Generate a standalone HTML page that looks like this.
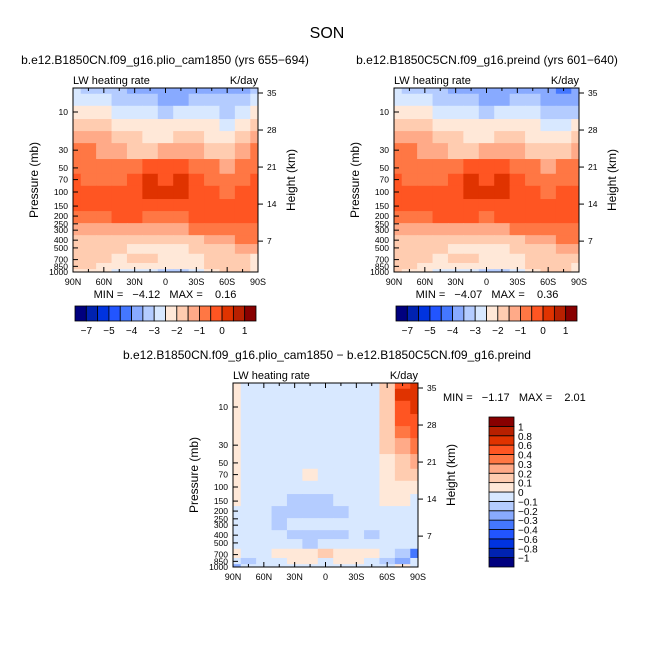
<!DOCTYPE html>
<html><head><meta charset="utf-8"><style>
body{margin:0;background:#fff}
svg{display:block;font-family:"Liberation Sans",sans-serif}
.pre{white-space:pre}
</style></head><body>
<svg id="chart" width="654" height="654" viewBox="0 0 654 654" xmlns="http://www.w3.org/2000/svg">
<rect width="654" height="654" fill="#fff"/>
<text x="327" y="38" font-size="16" text-anchor="middle">SON</text>
<text x="165" y="64" font-size="12" text-anchor="middle">b.e12.B1850CN.f09_g16.plio_cam1850 (yrs 655−694)</text>
<text x="487" y="64" font-size="12" text-anchor="middle">b.e12.B1850C5CN.f09_g16.preind (yrs 601−640)</text>
<text x="327" y="359" font-size="12" text-anchor="middle">b.e12.B1850CN.f09_g16.plio_cam1850 − b.e12.B1850C5CN.f09_g16.preind</text>
<g id="panels"></g>
</svg>
<script>
const lats=["90N","75N","60N","45N","30N","15N","0","15S","30S","45S","60S","75S","90S"];
const plevs=[5,7,10,15,20,30,50,70,100,150,200,300,400,500,700,850,1000];
const pTicks=[10,30,50,70,100,150,200,250,300,400,500,700,850,1000];
const hTicks=[35,28,21,14,7];
const xTickLabels=["90N","60N","30N","0","30S","60S","90S"];
const levelsAbs=[-7,-6,-5,-4.5,-4,-3.5,-3,-2.5,-2,-1.5,-1,-0.5,0,0.5,1];
const levelLabelsAbs=["-7","","-5","","-4","","-3","","-2","","-1","","0","","1"];
const levelsDiff=[-1,-0.8,-0.6,-0.4,-0.3,-0.2,-0.1,0,0.1,0.2,0.3,0.4,0.6,0.8,1];
const levelLabelsDiff=["−1","−0.8","−0.6","−0.4","−0.3","−0.2","−0.1","0","0.1","0.2","0.3","0.4","0.6","0.8","1"];
const palette=["#00007f","#0022b0","#0033e0","#2255ff","#4477ff","#88aaff","#b4ccff","#d8e8ff","#ffe8d8","#ffccb0","#ffaa88","#ff7744","#ff5522","#e03300","#b82000","#880000"];
const field1=[
[-2.9,-3.1,-3.3,-3.5,-3.7,-3.9,-4.0,-4.0,-3.9,-3.8,-3.7,-3.6,-3.3],
[-2.6,-2.8,-3.0,-3.2,-3.4,-3.5,-3.6,-3.6,-3.5,-3.4,-3.5,-3.4,-2.9],
[-2.2,-2.3,-2.5,-2.7,-2.9,-3.0,-3.1,-3.0,-2.9,-3.0,-3.2,-2.9,-2.4],
[-1.7,-1.8,-2.0,-2.2,-2.4,-2.5,-2.5,-2.4,-2.3,-2.5,-2.8,-2.3,-1.8],
[-1.2,-1.3,-1.5,-1.8,-2.0,-2.1,-2.1,-2.0,-1.9,-2.1,-2.4,-1.9,-1.4],
[-0.8,-0.9,-1.1,-1.4,-1.6,-1.6,-1.5,-1.5,-1.5,-1.7,-1.9,-1.5,-0.9],
[-0.6,-0.7,-0.8,-0.9,-0.6,-0.4,-0.3,-0.4,-0.6,-1.0,-1.2,-0.9,-0.6],
[-0.5,-0.6,-0.7,-0.6,-0.3,0.05,-0.1,0.05,-0.2,-0.7,-0.9,-0.6,-0.5],
[-0.45,-0.5,-0.5,-0.45,-0.2,0.08,0.05,0.05,-0.2,-0.5,-0.6,-0.4,-0.3],
[-0.4,-0.4,-0.4,-0.35,-0.3,-0.3,-0.35,-0.3,-0.3,-0.3,-0.3,-0.3,-0.3],
[-0.6,-0.6,-0.55,-0.5,-0.45,-0.6,-0.8,-0.6,-0.4,-0.4,-0.4,-0.4,-0.4],
[-1.1,-1.2,-1.2,-1.2,-1.3,-1.4,-1.5,-1.3,-1.0,-0.8,-0.7,-0.7,-0.7],
[-1.6,-1.7,-1.8,-1.8,-1.8,-1.8,-1.8,-1.8,-1.6,-1.3,-1.1,-1.0,-1.0],
[-1.8,-1.8,-1.9,-1.9,-2.1,-2.3,-2.2,-2.2,-1.9,-1.7,-1.6,-1.5,-1.5],
[-1.9,-1.9,-2.0,-2.1,-1.7,-1.6,-2.1,-2.3,-2.2,-1.9,-1.6,-1.8,-2.3],
[-1.9,-2.0,-2.1,-2.2,-2.2,-2.2,-2.1,-2.2,-2.2,-2.0,-1.9,-1.9,-2.2],
[-2.1,-2.3,-2.4,-2.6,-2.6,-2.7,-3.1,-3.1,-3.0,-2.4,-1.9,-1.8,-2.5]];
const field2=[
[-2.9,-3.1,-3.3,-3.5,-3.7,-3.9,-4.0,-4.0,-3.9,-3.8,-3.8,-4.1,-3.9],
[-2.6,-2.8,-3.0,-3.2,-3.4,-3.5,-3.6,-3.6,-3.5,-3.4,-3.6,-4.0,-3.6],
[-2.2,-2.3,-2.5,-2.7,-2.9,-3.0,-3.1,-3.0,-2.9,-3.0,-3.3,-3.4,-3.1],
[-1.7,-1.8,-2.0,-2.2,-2.4,-2.5,-2.5,-2.4,-2.3,-2.5,-2.9,-2.7,-2.3],
[-1.2,-1.3,-1.5,-1.8,-2.0,-2.1,-2.1,-2.0,-1.9,-2.1,-2.5,-2.2,-1.8],
[-0.8,-0.9,-1.1,-1.4,-1.6,-1.6,-1.5,-1.5,-1.5,-1.7,-2.0,-1.7,-1.2],
[-0.6,-0.7,-0.8,-0.9,-0.6,-0.4,-0.3,-0.4,-0.6,-1.0,-1.3,-1.0,-0.8],
[-0.5,-0.6,-0.7,-0.6,-0.3,0.05,-0.1,0.05,-0.2,-0.7,-0.9,-0.7,-0.6],
[-0.45,-0.5,-0.5,-0.45,-0.2,0.08,0.05,0.05,-0.2,-0.5,-0.6,-0.4,-0.35],
[-0.4,-0.4,-0.4,-0.35,-0.2,-0.2,-0.25,-0.3,-0.3,-0.3,-0.3,-0.3,-0.3],
[-0.6,-0.6,-0.55,-0.4,-0.3,-0.45,-0.65,-0.5,-0.4,-0.4,-0.4,-0.4,-0.4],
[-1.1,-1.2,-1.2,-1.1,-1.3,-1.4,-1.5,-1.3,-1.0,-0.8,-0.7,-0.7,-0.7],
[-1.6,-1.7,-1.8,-1.8,-1.7,-1.7,-1.7,-1.7,-1.6,-1.2,-1.1,-1.0,-1.0],
[-1.8,-1.8,-1.9,-1.9,-2.1,-2.3,-2.2,-2.2,-1.9,-1.7,-1.6,-1.5,-1.5],
[-1.9,-1.9,-2.0,-2.1,-1.7,-1.6,-2.2,-2.3,-2.2,-1.9,-1.6,-1.6,-1.9],
[-1.9,-1.8,-2.1,-2.2,-2.2,-2.2,-2.1,-2.2,-2.2,-2.0,-1.7,-1.6,-2.1],
[-1.8,-2.2,-2.4,-2.6,-2.6,-2.7,-3.1,-3.1,-3.0,-2.4,-1.9,-1.8,-2.5]];
const fieldDiff=[
[0.05,-0.05,-0.05,-0.05,-0.05,-0.05,-0.05,-0.05,-0.05,-0.05,0.1,0.5,0.6],
[0.05,-0.05,-0.05,-0.05,-0.05,-0.05,-0.05,-0.05,-0.05,-0.05,0.15,0.6,0.65],
[0.05,-0.05,-0.05,-0.05,-0.05,-0.05,-0.05,-0.05,-0.05,-0.05,0.15,0.55,0.7],
[0.05,-0.05,-0.05,-0.05,-0.05,-0.05,-0.05,-0.05,-0.05,-0.05,0.1,0.45,0.55],
[0.05,-0.05,-0.05,-0.05,-0.05,-0.05,-0.05,-0.05,-0.05,-0.05,0.1,0.35,0.45],
[0.05,-0.05,-0.05,-0.05,-0.05,-0.05,-0.05,-0.05,-0.05,-0.05,0.1,0.25,0.3],
[0.05,-0.05,-0.05,-0.05,-0.05,-0.05,-0.05,-0.05,-0.05,-0.05,0.05,0.15,0.2],
[0.05,-0.05,-0.05,-0.05,-0.05,0.05,-0.05,-0.05,-0.05,-0.05,0.05,0.1,0.1],
[0.05,-0.05,-0.05,-0.05,-0.05,-0.05,-0.05,-0.05,-0.05,-0.05,0.05,0.05,0.05],
[0.05,-0.05,-0.05,-0.05,-0.12,-0.15,-0.12,-0.05,-0.05,-0.05,0.05,0.05,-0.05],
[-0.05,-0.05,-0.05,-0.15,-0.15,-0.15,-0.15,-0.12,-0.05,-0.05,-0.05,-0.05,-0.05],
[-0.05,-0.05,-0.05,-0.12,-0.05,-0.05,-0.05,-0.05,-0.05,-0.05,-0.05,-0.05,-0.05],
[-0.05,-0.05,-0.05,-0.05,-0.15,-0.15,-0.12,-0.15,-0.05,-0.12,-0.05,-0.05,-0.05],
[-0.05,-0.05,-0.05,-0.05,-0.05,-0.12,-0.05,-0.05,-0.05,-0.05,-0.05,-0.05,-0.05],
[0.05,-0.05,-0.05,0.05,0.05,0.05,0.1,0.05,0.05,0.05,-0.05,-0.2,-0.4],
[-0.05,-0.2,-0.05,-0.05,0.05,0.05,-0.05,0.05,0.05,-0.05,-0.2,-0.3,-0.1],
[-0.3,-0.1,-0.05,-0.05,-0.05,-0.05,-0.05,-0.05,-0.05,-0.05,-0.05,0.05,-0.05]];
const stats1=["-4.12","0.16"], stats2=["-4.07","0.36"], statsDiff=["-1.17","2.01"];

const NS="http://www.w3.org/2000/svg";
const root=document.getElementById('panels');
function mk(tag,attrs,parent,text){const e=document.createElementNS(NS,tag);for(const k in attrs)e.setAttribute(k,attrs[k]);if(text!==undefined)e.textContent=text;(parent||root).appendChild(e);return e;}
function colorFor(v,levels){let i=0;while(i<levels.length&&v>=levels[i])i++;return palette[i];}

function panel(name,x0,y0,field,levels,stats,statPos){
  const W=185,H=184,DEC=80;
  const g=mk('g',{});
  
  
  const yP=p=>y0+H-DEC*(3-Math.log10(p));
  const xL=i=>x0+i*W/(lats.length-1);
  const cid='clip-'+name;
  const cp=mk('clipPath',{id:cid},g);mk('rect',{x:x0,y:y0,width:W,height:H},cp);
  const cells=mk('g',{'clip-path':'url(#'+cid+')'},g);
  for(let r=0;r<plevs.length;r++){
    const top=r===0?y0-5:yP(Math.sqrt(plevs[r-1]*plevs[r]));
    const bot=r===plevs.length-1?y0+H+5:yP(Math.sqrt(plevs[r]*plevs[r+1]));
    for(let c=0;c<lats.length;c++){
      const dx=W/(lats.length-1)/2;
      const cell=mk('rect',{x:xL(c)-dx,y:top,width:2*dx+0.6,height:bot-top+0.6,fill:colorFor(field[r][c],levels)},cells);
      
      
    }
  }
  mk('rect',{x:x0,y:y0,width:W,height:H,fill:'none',stroke:'#000','stroke-width':1},g);
  for(let i=0;i<=12;i++){const x=x0+i*W/12;const L=i%2===0?5:3;
    mk('line',{x1:x,x2:x,y1:y0+H,y2:y0+H-L,stroke:'#000'},g);mk('line',{x1:x,x2:x,y1:y0,y2:y0+L,stroke:'#000'},g);}
  xTickLabels.forEach((t,i)=>{const tl=mk('text',{x:x0+i*W/6,y:y0+H+13,'font-size':9,'text-anchor':'middle'},g,t);
    });
  pTicks.forEach(p=>{const y=yP(p);mk('line',{x1:x0,x2:x0+5,y1:y,y2:y,stroke:'#000'},g);
    const tl=mk('text',{x:x0-5,y:y+3,'font-size':8.5,'text-anchor':'end'},g,String(p));
    });
  hTicks.forEach(h=>{const yy=y0+5+5.29*(35-h);
    mk('line',{x1:x0+W,x2:x0+W+5,y1:yy,y2:yy,stroke:'#000'},g);
    const tl=mk('text',{x:x0+W+9,y:yy+3,'font-size':8.5},g,String(h));
    });
  const yl=mk('text',{x:0,y:0,'font-size':12,'text-anchor':'middle',transform:`translate(${x0-35},${y0+H/2}) rotate(-90)`},g,'Pressure (mb)');
  
  const hl=mk('text',{x:0,y:0,'font-size':12,'text-anchor':'middle',transform:`translate(${x0+W+37},${y0+H/2}) rotate(-90)`},g,'Height (km)');
  
  const lt=mk('text',{x:x0,y:y0-4,'font-size':11},g,'LW heating rate');
  
  const ut=mk('text',{x:x0+W,y:y0-4,'font-size':11,'text-anchor':'end'},g,'K/day');
  
  const st=mk('text',{x:statPos[0],y:statPos[1],'font-size':11,'text-anchor':statPos[2],'class':'pre'},g,`MIN =   ${stats[0].replace('-','−')}   MAX =    ${stats[1]}`);
  
}
function hbar(name,x0,y0,w,h,labels){
  const g=mk('g',{});
  
  
  const bw=w/16;
  palette.forEach((c,i)=>{const b=mk('rect',{x:x0+i*bw,y:y0,width:bw,height:h,fill:c,stroke:'#000','stroke-width':0.8},g);
    });
  labels.forEach((t,i)=>{if(!t)return;const tl=mk('text',{x:x0+(i+1)*bw,y:y0+h+13,'font-size':10,'text-anchor':'middle'},g,t.replace('-','−'));
    });
}
function vbar(name,x0,y0,w,h,labels){
  const g=mk('g',{});
  
  
  const bh=h/16;
  palette.forEach((c,i)=>{const b=mk('rect',{x:x0,y:y0+h-(i+1)*bh,width:w,height:bh,fill:c,stroke:'#000','stroke-width':0.8},g);
    });
  labels.forEach((t,i)=>{const tl=mk('text',{x:x0+w+4,y:y0+h-(i+1)*bh+4,'font-size':10},g,t);
    });
}
panel('panel-plio',73,88,field1,levelsAbs,stats1,[165,298,'middle']);
panel('panel-preind',394,88,field2,levelsAbs,stats2,[487,298,'middle']);
panel('panel-diff',233,383,fieldDiff,levelsDiff,statsDiff,[443,401,'start']);
hbar('colorbar-plio',75,306,181,15,levelLabelsAbs);
hbar('colorbar-preind',396,306,181,15,levelLabelsAbs);
vbar('colorbar-diff',489,417,25,150,levelLabelsDiff);
</script>
</body></html>
